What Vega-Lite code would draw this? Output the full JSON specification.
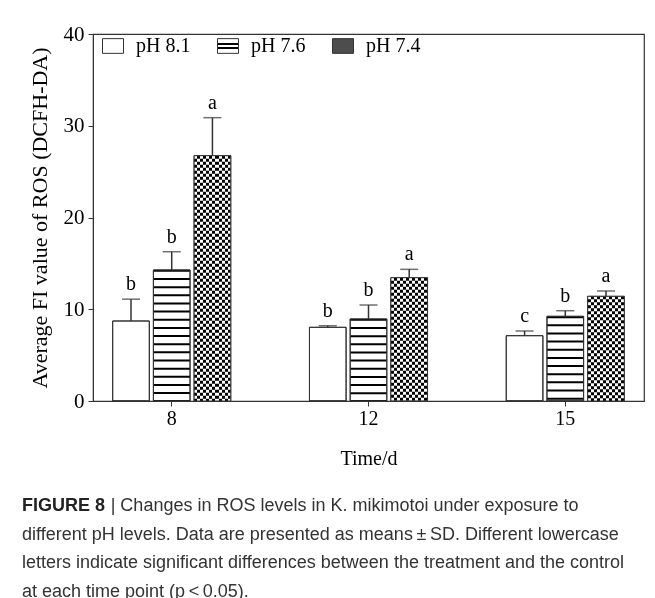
{
  "$schema": "https://vega.github.io/schema/vega-lite/v6.json",
  "width": 551,
  "height": 367,
  "autosize": {"type": "none"},
  "padding": {"left": 93, "top": 34, "right": 11, "bottom": 197},
  "background": "white",
  "config": {"font": "Liberation Serif", "view": {"stroke": "#333", "strokeWidth": 1.2}},
  "data": {
    "values": [
      {"day": 8, "ph": "pH 8.1", "mean": 8.72, "upper": 11.1, "sig": "b"},
      {"day": 8, "ph": "pH 7.6", "mean": 14.28, "upper": 16.27, "sig": "b"},
      {"day": 8, "ph": "pH 7.4", "mean": 26.74, "upper": 30.88, "sig": "a"},
      {"day": 12, "ph": "pH 8.1", "mean": 8.03, "upper": 8.2, "sig": "b"},
      {"day": 12, "ph": "pH 7.6", "mean": 8.94, "upper": 10.46, "sig": "b"},
      {"day": 12, "ph": "pH 7.4", "mean": 13.44, "upper": 14.35, "sig": "a"},
      {"day": 15, "ph": "pH 8.1", "mean": 7.12, "upper": 7.63, "sig": "c"},
      {"day": 15, "ph": "pH 7.6", "mean": 9.23, "upper": 9.84, "sig": "b"},
      {"day": 15, "ph": "pH 7.4", "mean": 11.41, "upper": 11.99, "sig": "a"}
    ]
  },
  "title": {
    "text": "FIGURE 8",
    "subtitle": [
      "\u200b\u2007\u2007\u2007\u2007\u2007\u2007\u2007\u2007\u2009 | Changes in ROS levels in K. mikimotoi under exposure to",
      "different pH levels. Data are presented as means\u2009±\u2009SD. Different lowercase",
      "letters indicate significant differences between the treatment and the control",
      "at each time point (p\u2009<\u20090.05)."
    ],
    "orient": "bottom",
    "anchor": "start",
    "frame": "group",
    "dx": -71,
    "offset": 29,
    "font": "Liberation Sans",
    "fontSize": 18,
    "fontWeight": "bold",
    "color": "#222",
    "lineHeight": 18,
    "baseline": "top",
    "subtitleFont": "Liberation Sans",
    "subtitleFontSize": 18,
    "subtitleColor": "#333",
    "subtitleLineHeight": 28.5,
    "subtitlePadding": -18
  },
  "encoding": {
    "x": {
      "field": "day",
      "type": "ordinal",
      "scale": {"paddingInner": 0.4, "paddingOuter": 0.1},
      "axis": {
        "title": "Time/d",
        "labelAngle": 0,
        "tickSize": 5,
        "labelPadding": 2,
        "domainColor": "#333",
        "tickColor": "#333",
        "labelFont": "Liberation Serif",
        "labelFontSize": 20,
        "labelColor": "#000",
        "titleFont": "Liberation Serif",
        "titleFontSize": 20,
        "titleFontWeight": "normal",
        "titleColor": "#000",
        "titlePadding": 20
      }
    },
    "xOffset": {
      "field": "ph",
      "type": "nominal",
      "sort": ["pH 8.1", "pH 7.6", "pH 7.4"],
      "scale": {"paddingInner": 0.1, "paddingOuter": 0}
    }
  },
  "layer": [
    {
      "mark": {"type": "bar", "fill": "#ffffff", "stroke": "#333", "strokeWidth": 1},
      "encoding": {
        "y": {
          "field": "mean",
          "type": "quantitative",
          "title": "Average FI value of ROS (DCFH-DA)",
          "scale": {"domain": [0, 40], "nice": false},
          "axis": {
            "values": [0, 10, 20, 30, 40],
            "grid": false,
            "tickSize": 5,
            "labelPadding": 4,
            "domainColor": "#333",
            "tickColor": "#333",
            "labelFont": "Liberation Serif",
            "labelFontSize": 21,
            "labelColor": "#000",
            "titleFont": "Liberation Serif",
            "titleFontSize": 22,
            "titleFontWeight": "normal",
            "titleColor": "#000",
            "titlePadding": 12
          }
        }
      }
    },
    {
      "mark": {"type": "bar", "stroke": "#333", "strokeWidth": 1},
      "encoding": {
        "y": {"datum": 0, "type": "quantitative"},
        "fill": {
          "field": "ph",
          "type": "nominal",
          "scale": {
            "domain": ["pH 8.1", "pH 7.6", "pH 7.4"],
            "range": [
              "#ffffff",
              {"expr": "{gradient: 'linear', x1: 0, y1: 0, x2: 0, y2: 1, stops: [{offset: 0, color: '#ffffff'}, {offset: 0.27, color: '#ffffff'}, {offset: 0.27, color: '#000000'}, {offset: 0.4, color: '#000000'}, {offset: 0.4, color: '#ffffff'}, {offset: 0.6, color: '#ffffff'}, {offset: 0.6, color: '#000000'}, {offset: 0.73, color: '#000000'}, {offset: 0.73, color: '#ffffff'}, {offset: 1, color: '#ffffff'}]}"},
              "#4d4d4d"
            ]
          },
          "legend": {
            "orient": "none",
            "legendX": 9,
            "legendY": 1,
            "direction": "horizontal",
            "title": null,
            "padding": 0,
            "symbolType": "M-1,-0.7H1V0.7H-1Z",
            "symbolSize": 441,
            "symbolStrokeColor": "#333",
            "symbolStrokeWidth": 1,
            "labelFont": "Liberation Serif",
            "labelFontSize": 20,
            "labelColor": "#000",
            "labelOffset": 12,
            "columnPadding": 24
          }
        }
      }
    },
    {
      "transform": [{"filter": "datum.ph === 'pH 7.6'"}],
      "mark": {"type": "rule", "color": "#000", "strokeWidth": 36.6, "strokeDash": [2, 6.15], "strokeDashOffset": 0.15},
      "encoding": {
        "y": {"field": "mean", "type": "quantitative", "title": "Average FI value of ROS (DCFH-DA)"},
        "y2": {"datum": 0}
      }
    },
    {
      "transform": [{"filter": "datum.ph === 'pH 7.4'"}],
      "mark": {
        "type": "bar",
        "strokeWidth": 0,
        "fill": {
          "gradient": "linear", "x1": 0, "y1": 0, "x2": 1, "y2": 0,
          "stops": [
            {"offset": 0, "color": "#000"}, {"offset": 0.0833, "color": "#000"},
            {"offset": 0.0833, "color": "#fff"}, {"offset": 0.1667, "color": "#fff"},
            {"offset": 0.1667, "color": "#000"}, {"offset": 0.25, "color": "#000"},
            {"offset": 0.25, "color": "#fff"}, {"offset": 0.3333, "color": "#fff"},
            {"offset": 0.3333, "color": "#000"}, {"offset": 0.4167, "color": "#000"},
            {"offset": 0.4167, "color": "#fff"}, {"offset": 0.5, "color": "#fff"},
            {"offset": 0.5, "color": "#000"}, {"offset": 0.5833, "color": "#000"},
            {"offset": 0.5833, "color": "#fff"}, {"offset": 0.6667, "color": "#fff"},
            {"offset": 0.6667, "color": "#000"}, {"offset": 0.75, "color": "#000"},
            {"offset": 0.75, "color": "#fff"}, {"offset": 0.8333, "color": "#fff"},
            {"offset": 0.8333, "color": "#000"}, {"offset": 0.9167, "color": "#000"},
            {"offset": 0.9167, "color": "#fff"}, {"offset": 1, "color": "#fff"}
          ]
        }
      },
      "encoding": {
        "y": {"field": "mean", "type": "quantitative", "title": "Average FI value of ROS (DCFH-DA)"}
      }
    },
    {
      "transform": [{"filter": "datum.ph === 'pH 7.4'"}],
      "mark": {"type": "rule", "color": "#fff", "strokeWidth": 36.6, "strokeDash": [3, 3], "blend": "difference"},
      "encoding": {
        "y": {"field": "mean", "type": "quantitative", "title": "Average FI value of ROS (DCFH-DA)"},
        "y2": {"datum": 0}
      }
    },
    {
      "mark": {"type": "bar", "fillOpacity": 0, "stroke": "#333", "strokeWidth": 1},
      "encoding": {
        "y": {"field": "mean", "type": "quantitative", "title": "Average FI value of ROS (DCFH-DA)"}
      }
    },
    {
      "mark": {"type": "rule", "color": "#333", "strokeWidth": 1.5},
      "encoding": {
        "y": {"field": "mean", "type": "quantitative", "title": "Average FI value of ROS (DCFH-DA)"},
        "y2": {"field": "upper"}
      }
    },
    {
      "mark": {"type": "tick", "color": "#333", "thickness": 1.5, "size": 18},
      "encoding": {
        "y": {"field": "upper", "type": "quantitative", "title": "Average FI value of ROS (DCFH-DA)"}
      }
    },
    {
      "mark": {"type": "text", "font": "Liberation Serif", "fontSize": 20, "dy": -9, "baseline": "alphabetic", "color": "#000"},
      "encoding": {
        "y": {"field": "upper", "type": "quantitative", "title": "Average FI value of ROS (DCFH-DA)"},
        "text": {"field": "sig"}
      }
    }
  ]
}
